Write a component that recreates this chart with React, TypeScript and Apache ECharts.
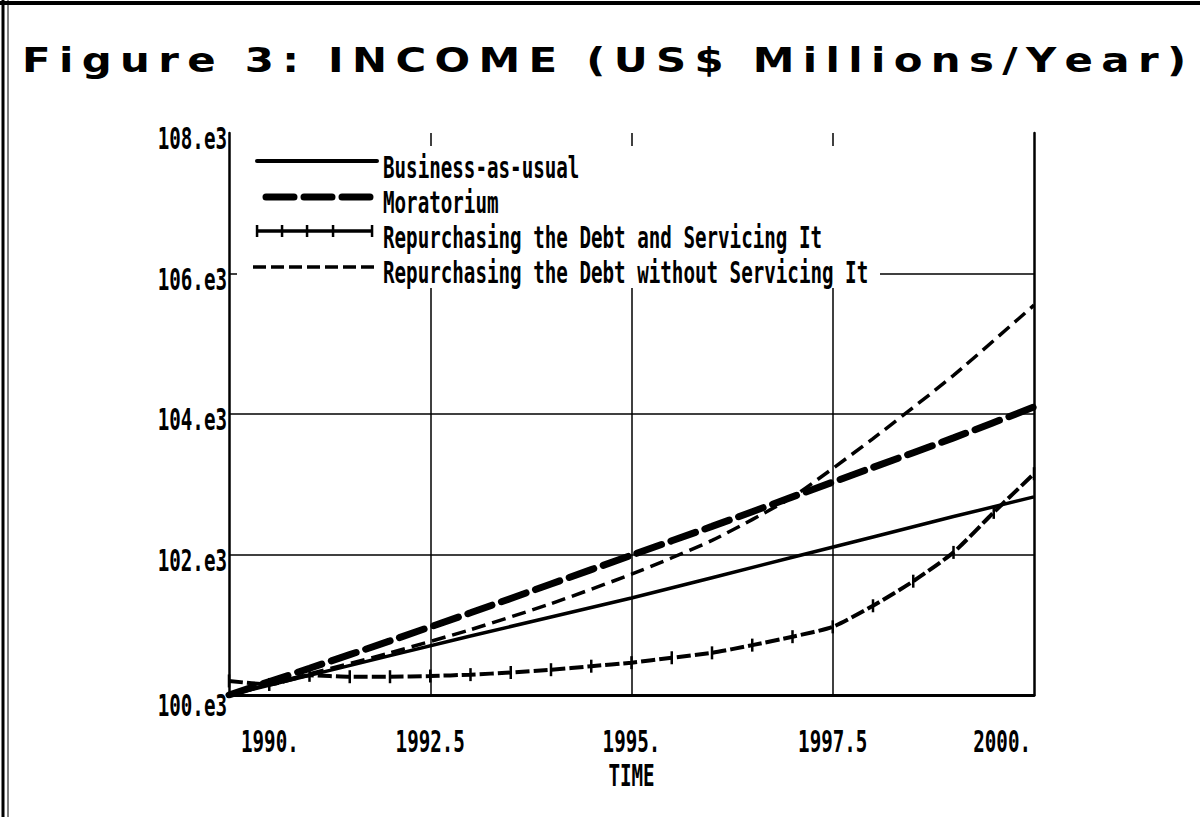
import React, { useEffect, useRef } from "react";
import * as echarts from "echarts";

// ---------- data ----------
const TITLE = "Figure 3: INCOME (US$ Millions/Year)";
const X_NAME = "TIME";
const X_TICKS = [1990, 1992.5, 1995, 1997.5, 2000];
const X_TICK_LABELS = ["1990.", "1992.5", "1995.", "1997.5", "2000."];
const Y_TICKS = [100000, 102000, 104000, 106000, 108000];
const Y_TICK_LABELS = ["100.e3", "102.e3", "104.e3", "106.e3", "108.e3"];

const SERIES_NAMES = [
  "Business-as-usual",
  "Moratorium",
  "Repurchasing the Debt and Servicing It",
  "Repurchasing the Debt without Servicing It",
];

const YEARS = [1990, 1991, 1992, 1993, 1994, 1995, 1996, 1997, 1998, 1999, 2000];
const businessAsUsual = [100000, 100280, 100560, 100840, 101110, 101380, 101670, 101960, 102250, 102540, 102820];
const moratorium = [100000, 100380, 100770, 101170, 101580, 101990, 102400, 102820, 103240, 103660, 104100];
const withoutServicing = [100000, 100300, 100600, 100930, 101300, 101720, 102200, 102820, 103650, 104550, 105550];

const SERVICING_YEARS = [1990, 1990.5, 1991, 1991.5, 1992, 1992.5, 1993, 1993.5, 1994, 1994.5, 1995, 1995.5, 1996, 1996.5, 1997, 1997.5, 1998, 1998.5, 1999, 1999.5, 2000];
const servicing = [100200, 100150, 100280, 100260, 100260, 100270, 100290, 100320, 100360, 100410, 100460, 100530, 100600, 100710, 100830, 100970, 101270, 101620, 102030, 102600, 103150];

// ---------- styles ----------
const MONO = '"DejaVu Sans Mono", monospace';
const LABEL_FONT = `bold 30px ${MONO}`;
const LABEL_SCALE = 0.64;

export default function App() {
  const ref = useRef<HTMLDivElement>(null);

  useEffect(() => {
    if (!ref.current) return;
    const chart = echarts.init(ref.current, undefined, { renderer: "svg" });

    const pairs = (xs: number[], ys: number[]) => xs.map((x, i) => [x, ys[i]]);
    const splitColors = ["rgba(0,0,0,0)", "#000", "#000", "#000", "rgba(0,0,0,0)"];

    chart.setOption({
      animation: false,
      backgroundColor: "#fff",
      grid: { left: 229, right: 166, top: 133, bottom: 122, containLabel: false },
      xAxis: {
        type: "value",
        min: 1990,
        max: 2000,
        interval: 2.5,
        axisLine: { show: true, onZero: false, lineStyle: { color: "#000", width: 3 } },
        axisTick: { show: false },
        axisLabel: { show: false },
        splitLine: { show: true, lineStyle: { color: splitColors, width: 1.5 } },
      },
      yAxis: [
        {
          type: "value",
          min: 100000,
          max: 108000,
          interval: 2000,
          axisLine: { show: true, onZero: false, lineStyle: { color: "#000", width: 2.5 } },
          axisTick: { show: false },
          axisLabel: { show: false },
          splitLine: { show: true, lineStyle: { color: splitColors, width: 1.5 } },
        },
        {
          type: "value",
          position: "right",
          min: 100000,
          max: 108000,
          interval: 2000,
          axisLine: { show: true, onZero: false, lineStyle: { color: "#000", width: 2.5 } },
          axisTick: { show: false },
          axisLabel: { show: false },
          splitLine: { show: false },
        },
      ],
      series: [
        {
          name: SERIES_NAMES[0],
          type: "line",
          data: pairs(YEARS, businessAsUsual),
          showSymbol: false,
          lineStyle: { color: "#000", width: 3.5 },
          z: 3,
        },
        {
          name: SERIES_NAMES[1],
          type: "line",
          data: pairs(YEARS, moratorium),
          showSymbol: false,
          smooth: 0.2,
          lineStyle: { color: "#000", width: 7, type: [26, 10], cap: "round" },
          z: 3,
        },
        {
          name: SERIES_NAMES[2],
          type: "line",
          data: pairs(SERVICING_YEARS, servicing),
          showSymbol: true,
          symbol: "rect",
          symbolSize: [2.5, 13],
          itemStyle: { color: "#000" },
          smooth: 0.2,
          lineStyle: { color: "#000", width: 4, type: [14, 4] },
          z: 3,
        },
        {
          name: SERIES_NAMES[3],
          type: "line",
          data: pairs(YEARS, withoutServicing),
          showSymbol: false,
          smooth: 0.2,
          lineStyle: { color: "#000", width: 3.5, type: [14, 7] },
          z: 3,
        },
      ],
    });

    const toPx = (x: number, y: number) =>
      chart.convertToPixel({ gridIndex: 0 }, [x, y]) as number[];

    const graphics: any[] = [];

    // frame
    graphics.push({ type: "line", shape: { x1: 0, y1: 3, x2: 1200, y2: 3 }, style: { stroke: "#000", lineWidth: 4 }, z: 20 });
    graphics.push({ type: "line", shape: { x1: 3, y1: 0, x2: 3, y2: 817 }, style: { stroke: "#000", lineWidth: 3 }, z: 20 });
    graphics.push({ type: "line", shape: { x1: 8, y1: 0, x2: 8, y2: 817 }, style: { stroke: "#000", lineWidth: 1 }, z: 20 });

    // title (letter-spaced, stretched to the reference width)
    const spaced = TITLE.split(" ")
      .filter(Boolean)
      .map((w) => w.split("").join("\u2009"))
      .join("  ");
    const titleFont = 'bold 34px "DejaVu Sans", sans-serif';
    let titleScale = 1;
    try {
      const T: any = (echarts as any).graphic.Text;
      const t = new T({ style: { text: spaced, font: titleFont } });
      const w = t.getBoundingRect().width;
      if (w > 0) titleScale = 1165 / w;
    } catch (e) {
      titleScale = 1;
    }
    graphics.push({
      type: "text",
      x: 22,
      y: 60,
      scaleX: titleScale,
      z: 20,
      style: { text: spaced, font: titleFont, fill: "#000", textAlign: "left", textVerticalAlign: "middle", align: "left", verticalAlign: "middle" },
    });

    // y tick labels
    Y_TICKS.forEach((v, i) => {
      const p = toPx(1990, v);
      graphics.push({
        type: "text",
        x: p[0] - 2,
        y: p[1] + (i === 0 ? 11 : 6),
        scaleX: LABEL_SCALE,
        z: 20,
        style: { text: Y_TICK_LABELS[i], font: LABEL_FONT, fill: "#000", textAlign: "right", textVerticalAlign: "middle", align: "right", verticalAlign: "middle" },
      });
    });

    // x tick labels
    X_TICKS.forEach((v, i) => {
      const p = toPx(v, 100000);
      let align = "center";
      let dx = 0;
      if (i === 0) { align = "left"; dx = 12; }
      if (i === X_TICKS.length - 1) { align = "right"; dx = -3; }
      graphics.push({
        type: "text",
        x: p[0] + dx,
        y: p[1] + 47,
        scaleX: LABEL_SCALE,
        z: 20,
        style: { text: X_TICK_LABELS[i], font: LABEL_FONT, fill: "#000", textAlign: align, textVerticalAlign: "middle", align, verticalAlign: "middle" },
      });
    });

    // axis name
    const mid = toPx((X_TICKS[0] + X_TICKS[X_TICKS.length - 1]) / 2, 100000);
    graphics.push({
      type: "text",
      x: mid[0],
      y: mid[1] + 81,
      scaleX: LABEL_SCALE,
      z: 20,
      style: { text: X_NAME, font: LABEL_FONT, fill: "#000", textAlign: "center", textVerticalAlign: "middle", align: "center", verticalAlign: "middle" },
    });

    // legend box
    const LX = 237, LY = 146, LW = 643, LH = 142;
    graphics.push({ type: "rect", shape: { x: LX, y: LY, width: LW, height: LH }, style: { fill: "#fff" }, z: 10 });
    const rowY = [168, 203, 238, 273];
    const sx1 = 257, sx2 = 377, tx = 383;
    graphics.push({ type: "line", shape: { x1: sx1, y1: rowY[0] - 7, x2: sx2, y2: rowY[0] - 7 }, style: { stroke: "#000", lineWidth: 4, lineCap: "round" }, z: 11 });
    graphics.push({ type: "line", shape: { x1: 266, y1: rowY[1] - 6, x2: 373, y2: rowY[1] - 6 }, style: { stroke: "#000", lineWidth: 7, lineDash: [28, 10], lineCap: "round" }, z: 11 });
    graphics.push({ type: "line", shape: { x1: sx1, y1: rowY[2] - 7, x2: 372, y2: rowY[2] - 7 }, style: { stroke: "#000", lineWidth: 3.5 }, z: 11 });
    [257, 282, 307, 333, 372].forEach((x) => {
      graphics.push({ type: "rect", shape: { x: x - 1.2, y: rowY[2] - 13, width: 2.5, height: 12 }, style: { fill: "#000" }, z: 11 });
    });
    graphics.push({ type: "line", shape: { x1: 253, y1: rowY[3] - 6, x2: 375, y2: rowY[3] - 6 }, style: { stroke: "#000", lineWidth: 3.5, lineDash: [13, 5] }, z: 11 });
    SERIES_NAMES.forEach((n, i) => {
      graphics.push({
        type: "text",
        x: tx,
        y: rowY[i],
        scaleX: LABEL_SCALE,
        z: 12,
        style: { text: n, font: LABEL_FONT, fill: "#000", textAlign: "left", textVerticalAlign: "middle", align: "left", verticalAlign: "middle" },
      });
    });

    chart.setOption({ graphic: { elements: graphics } });

    return () => chart.dispose();
  }, []);

  return (
    <div
      ref={ref}
      style={{ position: "fixed", left: 0, top: 0, width: 1200, height: 817, background: "#fff" }}
    />
  );
}
